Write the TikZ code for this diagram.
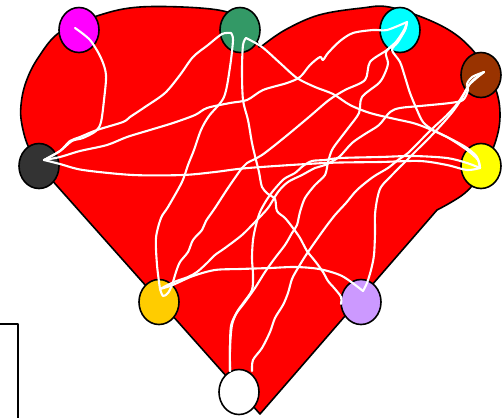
\documentclass[tikz,border=0pt]{standalone}
\usetikzlibrary{shapes.geometric}
\definecolor{heartred}{HTML}{FF0000}
\definecolor{cMag}{HTML}{FF00FF}
\definecolor{cGreen}{HTML}{339966}
\definecolor{cCyan}{HTML}{00FFFF}
\definecolor{cBrown}{HTML}{993300}
\definecolor{cYellow}{HTML}{FFFF00}
\definecolor{cDark}{HTML}{333333}
\definecolor{cGold}{HTML}{FFCC00}
\definecolor{cLav}{HTML}{CC99FF}
\begin{document}
\begin{tikzpicture}[x=1pt,y=-1pt,
  dot/.style={ellipse, draw=black, line width=1.6pt, minimum width=40pt, minimum height=45pt, inner sep=0pt},
  wire/.style={draw=white, line width=2.1pt, line cap=round, line join=round},
  outline/.style={draw=black, line width=1.6pt, line join=round}]
\useasboundingbox (0,0) rectangle (504,418);
\clip (0,0) rectangle (504,418);
% heart
\filldraw[fill=heartred, outline] (259,47) -- plot[smooth,tension=.6] coordinates {(262,46) (285,30) (319,15) (362,8) (389,7) (429,20) (459,37) (482,62) (496,90) (500,115) (496,140) (483,170) (465,193) (437,210)}
  -- (260,414) -- plot[smooth,tension=.6] coordinates {(50,178) (30,150) (22,125) (21,105) (26,82) (38,58) (60,32) (100,15) (140,7) (200,8) (233,14) (250,28) (259,47)} -- cycle;
% partial box
\draw[outline] (-10,324) rectangle (18,440);
% nodes
\node[dot, fill=cMag] (M) at (79,30) {};
\node[dot, fill=cGreen] (G) at (240,30) {};
\node[dot, fill=cCyan] (C) at (400,30) {};
\node[dot, fill=cBrown] (B) at (481,75) {};
\node[dot, fill=cYellow] (Y) at (481,166) {};
\node[dot, fill=cDark] (K) at (39,166) {};
\node[dot, fill=cGold] (O) at (159,302) {};
\node[dot, fill=cLav] (L) at (361,302) {};
\node[dot, fill=white] (W) at (239,392) {};
% ports
\coordinate (Mp) at (75,28);
\coordinate (Kp) at (44,160);
\coordinate (Gp) at (231,33);
\coordinate (Gq) at (246,38);
\coordinate (Cp) at (407,22);
\coordinate (Bp) at (484,72);
\coordinate (Yp) at (480,168);
\coordinate (Op) at (160,289);
\coordinate (Lp) at (363,291);
\coordinate (Lq) at (341,304);
\coordinate (Wp) at (230,371);
\coordinate (Wq) at (252,371);
% wires
\draw[wire] plot[smooth,tension=.5] coordinates {(Mp) (90,40) (101,58) (106,75) (104,100) (101,122) (96,131) (83,138) (72,141) (60,151) (Kp)};
\draw[wire] plot[smooth,tension=.5] coordinates {(Kp) (60,151) (70,141) (80,137) (97,130) (123,122) (130,117) (145,107) (165,93) (180,75) (193,57) (208,45) (222,34) (Gp)};
\draw[wire] plot[smooth,tension=.5] coordinates {(Gp) (233,40) (230,67) (224,97) (209,116) (201,130) (194,150) (188,165) (182,182) (168,207) (161,218) (156,238) (157,265) (Op)};
\draw[wire] plot[smooth,tension=.5] coordinates {(Gq) (243,45) (242,70) (243,100) (248,120) (252,143) (256,160) (259,172) (262,187) (268,194) (275,199) (277,211) (285,218) (293,228) (300,238) (307,251) (315,261) (323,272) (328,281) (335,289) (341,297) (Lq)};
\draw[wire] plot[smooth,tension=.5] coordinates {(Gq) (262,47) (280,63) (297,78) (315,87) (333,94) (350,105) (370,113) (395,119) (413,123) (427,128) (447,137) (467,150) (478,160) (Yp)};
\draw[wire] plot[smooth,tension=.5] coordinates {(Kp) (60,157) (80,151) (107,145) (127,137) (150,130) (173,123) (195,115) (207,108) (230,103) (247,100) (263,90) (287,83) (300,77) (310,65) (320,57) (323,60) (328,53) (340,41) (353,33) (373,30) (387,30) (Cp)};
\draw[wire] plot[smooth,tension=.5] coordinates {(Cp) (405,30) (398,40) (387,50) (370,62) (365,80) (345,90) (329,100) (309,117) (285,137) (262,155) (247,163) (242,168) (228,188) (215,208) (206,221) (202,230) (193,240) (188,252) (180,262) (176,272) (172,285) (168,293) (163,296) (Op)};
\draw[wire] plot[smooth,tension=.5] coordinates {(Op) (167,287) (175,284) (193,276) (215,270) (240,269) (270,268) (295,267) (319,269) (342,276) (Lp)};
\draw[wire] plot[smooth,tension=.5] coordinates {(Lp) (367,283) (371,270) (374,255) (375,233) (375,215) (377,200) (381,187) (393,174) (405,162) (418,149) (431,136) (444,122) (454,110) (462,98) (469,85) (Bp)};
\draw[wire] plot[smooth,tension=.5] coordinates {(Cp) (405,30) (398,42) (392,50) (400,62) (405,77) (410,93) (417,110) (423,122) (433,130) (453,140) (467,148) (477,157) (Yp)};
\draw[wire] plot[smooth,tension=.5] coordinates {(Cp) (404,30) (396,42) (386,52) (388,63) (385,73) (379,83) (362,97) (359,113) (349,127) (339,140) (332,150) (328,162) (325,175) (315,185) (305,198) (300,212) (297,225) (292,233) (285,245) (275,258) (265,272) (255,288) (245,302) (236,314) (231,326) (230,347) (Wp)};
\draw[wire] plot[smooth,tension=.5] coordinates {(Wq) (253,360) (262,348) (270,332) (275,318) (283,305) (288,293) (292,279) (298,268) (306,255) (315,242) (325,228) (335,215) (346,203) (357,190) (373,177) (388,168) (398,160) (408,153) (420,141) (433,128) (446,116) (457,104) (465,92) (472,81) (Bp)};
\draw[wire] plot[smooth,tension=.5] coordinates {(Bp) (472,77) (467,84) (468,90) (463,100) (450,103) (420,106) (400,108) (390,112) (379,125) (365,134) (352,143) (339,157) (325,165) (315,168) (302,175) (288,182) (278,192) (268,208) (255,222) (242,235) (225,248) (215,255) (207,263) (197,272) (188,277) (174,282) (Op)};
\draw[wire] plot[smooth,tension=.5] coordinates {(Kp) (60,164) (83,170) (133,175) (183,175) (215,172) (248,168) (325,163) (380,162) (420,161) (447,165) (467,170) (Yp)};
\draw[wire] plot[smooth,tension=.5] coordinates {(Yp) (467,163) (447,158) (413,156) (380,157) (340,158) (325,160) (312,161) (303,166) (295,173) (284,179) (273,191) (266,201) (260,212) (256,225) (253,240) (252,258) (253,275) (252,290) (244,302) (237,312) (232,325) (230,347) (Wp)};
\end{tikzpicture}
\end{document}
